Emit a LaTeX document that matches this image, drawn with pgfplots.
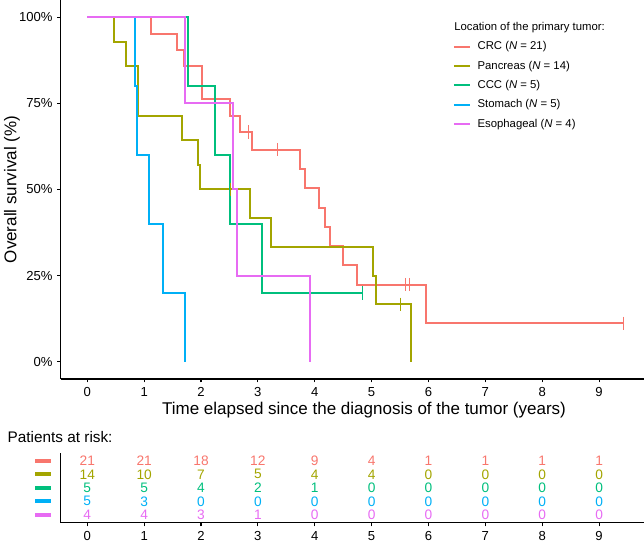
\documentclass[border=0pt]{standalone}
\usepackage{fontspec}
\setmainfont{Liberation Sans}
\usepackage{pgfplots}
\pgfplotsset{compat=1.18}
\definecolor{cA}{HTML}{F8766D}
\definecolor{cB}{HTML}{A3A500}
\definecolor{cC}{HTML}{00BF7D}
\definecolor{cD}{HTML}{00B0F6}
\definecolor{cE}{HTML}{E76BF3}
\pgfplotsset{
  base/.style={scale only axis, width=437.5pt, xmin=-0.468, xmax=9.79,
    axis x line*=bottom, axis y line*=left,
    axis line style={line width=0.8pt,-,black},
    tick align=outside, major tick length=2.6pt,
    tick style={line width=0.8pt, black},
    xtick={0,...,9},
    ticklabel style={font=\fontsize{9.8}{11}\selectfont, text=black},
    /pgf/number format/assume math mode=true},
  surv/.style={const plot, line width=1.5pt, mark=none},
  cens/.style={only marks, mark=|, mark size=5pt, mark options={line width=0.75pt}},
  risk/.style={draw=none, mark=none, nodes near coords, point meta=explicit,
    every node near coord/.append style={anchor=center, inner sep=0pt, font=\fontsize{10.3}{12}\selectfont, text=#1}},
}
\begin{document}
\begin{tikzpicture}
\begin{axis}[base, at={(45.5pt,0pt)}, anchor=north west, height=284.25pt,
  ymin=-5, ymax=105, ytick={0,25,50,75,100},
  yticklabels={0\%,25\%,50\%,75\%,100\%},
  xlabel={Time elapsed since the diagnosis of the tumor (years)},
  ylabel={Overall survival (\%)},
  every axis x label/.style={at={(axis description cs:0.52,0)}, anchor=center, yshift=-23.5pt, font=\fontsize{12.75}{15}\selectfont},
  every axis y label/.style={at={(axis description cs:-0.0835,0.5)}, anchor=center, rotate=90, font=\fontsize{12.75}{15}\selectfont},
  legend style={draw=none, fill=none, inner sep=0pt, at={(axis description cs:0.672,0.947)}, anchor=north west,
    font=\fontsize{8.5}{10}\selectfont, row sep=4pt,
    nodes={text height=6.5pt, text depth=2pt, inner ysep=1pt, inner xsep=5pt, anchor=west}},
  legend cell align=left,
  legend image code/.code={\draw[#1] (0pt,0pt) -- (12pt,0pt);},
]
\addlegendimage{empty legend}
\addlegendentry{\hspace*{-17.5pt}Location of the primary tumor:}
% CRC
\addplot[surv, cA] coordinates {(0,100) (1.115,95.24) (1.583,90.48) (1.70,85.71) (2.02,76.19) (2.51,71.43) (2.685,66.67) (2.89,61.54) (3.74,55.94) (3.83,50.35) (4.08,44.76) (4.175,39.16) (4.27,33.57) (4.50,27.97) (4.75,22.38) (5.95,11.19) (9.43,11.19)};
\addlegendentry{CRC (\textit{N} = 21)}
% Pancreas
\addplot[surv, cB] coordinates {(0,100) (0.47,92.86) (0.68,85.71) (0.886,71.43) (1.67,64.29) (1.94,57.14) (1.975,50) (2.86,41.67) (3.23,33.33) (5.03,25) (5.08,16.67) (5.69,0)};
\addlegendentry{Pancreas (\textit{N} = 14)}
% CCC
\addplot[surv, cC] coordinates {(0,100) (1.77,80) (2.25,60) (2.51,40) (3.08,20) (4.84,20)};
\addlegendentry{CCC (\textit{N} = 5)}
% Stomach
\addplot[surv, cD] coordinates {(0,100) (0.84,80) (0.87,60) (1.085,40) (1.33,20) (1.72,0)};
\addlegendentry{Stomach (\textit{N} = 5)}
% Esophageal
\addplot[surv, cE] coordinates {(0,100) (1.72,75) (2.57,50) (2.63,25) (3.92,0)};
\addlegendentry{Esophageal (\textit{N} = 4)}
% censoring marks
\addplot[cens, cA, forget plot] coordinates {(2.83,66.67) (3.34,61.54) (5.60,22.38) (5.66,22.38) (9.43,11.19)};
\addplot[cens, cB, forget plot] coordinates {(2.51,50) (5.50,16.67)};
\addplot[cens, cC, forget plot] coordinates {(4.84,20)};
\end{axis}

\begin{axis}[base, at={(45.5pt,-339.5pt)}, anchor=north west, height=52.7pt,
  ymin=0.4, ymax=5.6, ytick={1,2,3,4,5},
  ytick style={draw=none},
  yticklabels={{\textcolor{cE}{\rule{12pt}{3pt}}},{\textcolor{cD}{\rule{12pt}{3pt}}},{\textcolor{cC}{\rule{12pt}{3pt}}},{\textcolor{cB}{\rule{12pt}{3pt}}},{\textcolor{cA}{\rule{12pt}{3pt}}}},
  yticklabel style={xshift=-1pt},
]
\addplot[risk=cA] table[meta=m] {
x y m
0 5 21
1 5 21
2 5 18
3 5 12
4 5 9
5 5 4
6 5 1
7 5 1
8 5 1
9 5 1
};
\addplot[risk=cB] table[meta=m] {
x y m
0 4 14
1 4 10
2 4 7
3 4 5
4 4 4
5 4 4
6 4 0
7 4 0
8 4 0
9 4 0
};
\addplot[risk=cC] table[meta=m] {
x y m
0 3 5
1 3 5
2 3 4
3 3 2
4 3 1
5 3 0
6 3 0
7 3 0
8 3 0
9 3 0
};
\addplot[risk=cD] table[meta=m] {
x y m
0 2 5
1 2 3
2 2 0
3 2 0
4 2 0
5 2 0
6 2 0
7 2 0
8 2 0
9 2 0
};
\addplot[risk=cE] table[meta=m] {
x y m
0 1 4
1 1 4
2 1 3
3 1 1
4 1 0
5 1 0
6 1 0
7 1 0
8 1 0
9 1 0
};
\end{axis}
\node[anchor=base west, font=\fontsize{11.5}{13}\selectfont] at (2.25pt,-332pt) {Patients at risk:};
\pgfresetboundingbox
\path[use as bounding box] (0pt,0pt) rectangle (483pt,-406.5pt);
\end{tikzpicture}
\end{document}
